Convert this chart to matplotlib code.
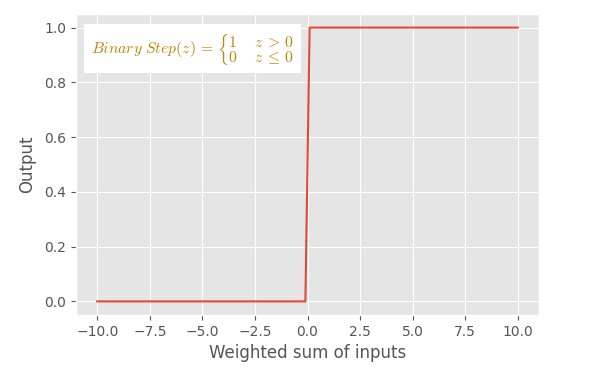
import matplotlib
matplotlib.use('Agg')
import matplotlib.pyplot as plt

plt.style.use('ggplot')
plt.rcParams['mathtext.fontset'] = 'cm'

# step function corners
x = [-10.0, -0.1, 0.1, 10.0]
y = [0.0, 0.0, 1.0, 1.0]

fig = plt.figure(figsize=(6, 3.76), dpi=100)
ax = fig.add_subplot(111)
fig.subplots_adjust(left=0.127, right=0.898, top=0.963, bottom=0.162)

ax.plot(x, y)
ax.set_xlabel('Weighted sum of inputs')
ax.set_ylabel('Output', labelpad=6)

eq = (r'$Binary\ Step(z)\,=\,\left\{\genfrac{}{}{0}{0}{1 \quad\ z\,>\,0}'
      r'{0 \quad\ z\,\leq\,0}\right.$')
ax.text(0.032, 0.885, eq, transform=ax.transAxes, fontsize=11.3,
        color='#b8860b', va='center', ha='left',
        bbox=dict(facecolor='white', edgecolor='none', pad=5))

fig.savefig('out.png', dpi=100)
